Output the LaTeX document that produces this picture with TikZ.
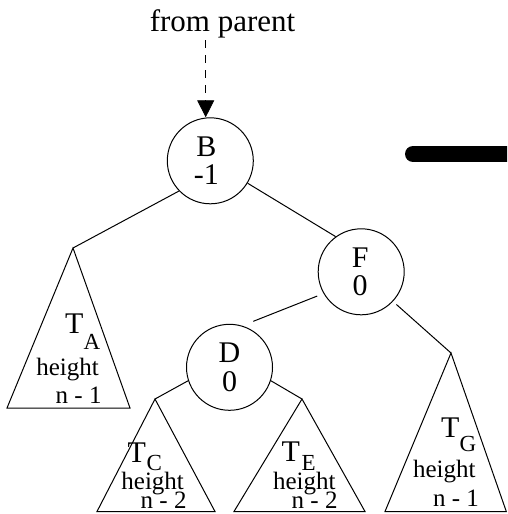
\documentclass[tikz,border=0pt]{standalone}
\usepackage{fontspec}
\setmainfont{Liberation Serif}
\usetikzlibrary{arrows.meta}
\begin{document}
\begin{tikzpicture}[x=1pt,y=-1pt,
  circ/.style={circle,draw,line width=1pt,minimum size=86pt,inner sep=0pt},
  ctxt/.style={inner sep=0pt,align=center,font=\fontsize{30}{28.5}\selectfont},
  edge/.style={line width=1pt},
  tri/.style={draw,line width=1pt,line join=miter},
  tbig/.style={inner sep=0pt,anchor=base west,font=\fontsize{30}{30}\selectfont},
  tsub/.style={inner sep=0pt,anchor=base west,font=\fontsize{23}{23}\selectfont},
  htxt/.style={inner sep=0pt,anchor=base west,font=\fontsize{25}{25}\selectfont}]
\useasboundingbox (0,0) rectangle (507,514);
\clip (0,0) rectangle (507,514);

% label at top
\node[inner sep=0pt,anchor=base,font=\fontsize{31}{31}\selectfont] (from) at (222.5,31) {from parent};

% circles
\node[circ] (B) at (210.3,160.8) {};
\node[ctxt] (Bt) at (206.3,160.8) {B\\-1};
\node[circ] (F) at (361.2,271.8) {};
\node[ctxt] (Ft) at (360.2,271.8) {F\\0};
\node[circ] (D) at (229.5,367.3) {};
\node[ctxt] (Dt) at (229.5,367.3) {D\\0};

% dashed arrow from parent
\coordinate (ar1) at (205.7,40);
\draw[line width=0.8pt,dash pattern=on 8pt off 7pt,-{Triangle[width=17pt,length=17pt]}] (ar1) -- (ar1 |- B.north);

% thick bar
\coordinate (bar1) at (413,154);
\coordinate (bar2) at (530,154);
\draw[line width=16pt,line cap=round] (bar1) -- (bar2);

% subtree triangles
\coordinate (Aa) at (73,248);  \coordinate (Al) at (7,408);   \coordinate (Ar) at (130,408);
\coordinate (Ca) at (155,399); \coordinate (Cl) at (97,511.5);  \coordinate (Cr) at (215,511.5);
\coordinate (Ea) at (302,399); \coordinate (El) at (234,511.5); \coordinate (Er) at (365,511.5);
\coordinate (Ga) at (451,353); \coordinate (Gl) at (385,511.5); \coordinate (Gr) at (506.3,511.5);
\draw[tri] (Aa) -- (Al) -- (Ar) -- cycle;
\draw[tri] (Ca) -- (Cl) -- (Cr) -- cycle;
\draw[tri] (Ea) -- (El) -- (Er) -- cycle;
\draw[tri] (Ga) -- (Gl) -- (Gr) -- cycle;

% edges
\draw[edge] (B.224) -- (Aa);
\draw[edge] (B.-31) -- (F.126);
\draw[edge,shorten <=6.8pt,shorten >=11.9pt] (F.210.5) -- (D.73.7);
\draw[edge,shorten <=4.5pt] (F.-43) -- (Ga);
\draw[edge] (D.198) -- (Ca);
\draw[edge] (D.-18) -- (Ea);

% subtree labels
\node[tbig] (TA) at (65,333.3) {T};
\node[tsub] (TAs) at (83.3,349.3) {A};
\node[htxt] (hA) at (36.2,375.7) {height};
\node[htxt] (nA) at (55.5,403.3) {n - 1};

\node[tbig] (TC) at (127.5,462.3) {T};
\node[tsub] (TCs) at (146.5,470) {C};
\node[htxt] (hC) at (121.2,489.5) {height};
\node[htxt] (nC) at (140.5,508) {n - 2};

\node[tbig] (TE) at (281.5,461.7) {T};
\node[tsub] (TEs) at (301.5,470) {E};
\node[htxt] (hE) at (272.8,489) {height};
\node[htxt] (nE) at (291.5,508) {n - 2};

\node[tbig] (TG) at (441,437.3) {T};
\node[tsub] (TGs) at (459.5,451.7) {G};
\node[htxt] (hG) at (412.8,477.3) {height};
\node[htxt] (nG) at (432.8,506.7) {n - 1};
\end{tikzpicture}
\end{document}
